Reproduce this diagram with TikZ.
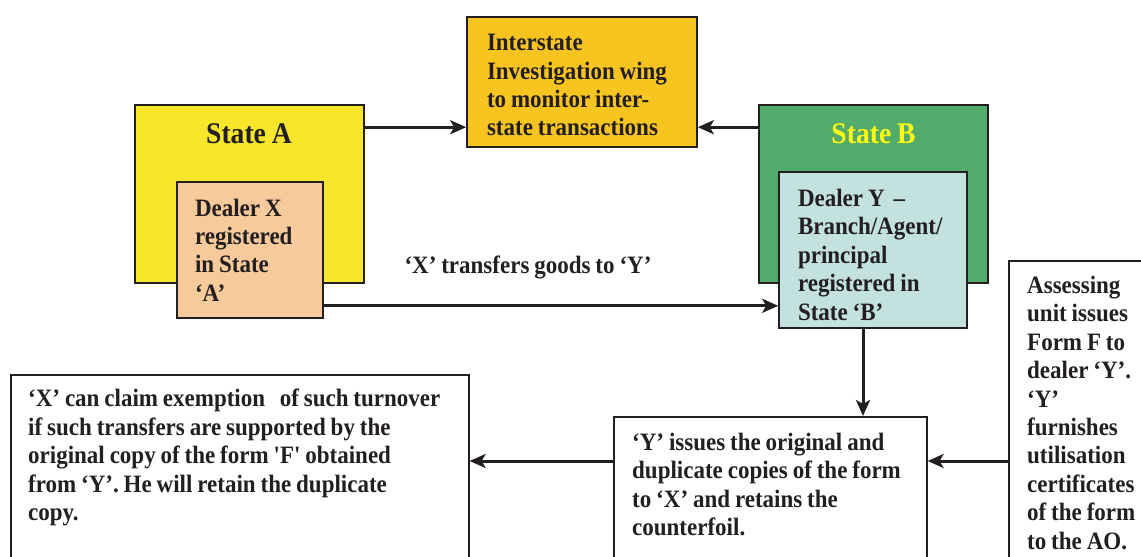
\documentclass[tikz,border=0pt]{standalone}
\usepackage{fontspec}
\setmainfont{Liberation Serif}[FakeStretch=0.92,WordSpace=0.85]
\newfontfamily\straightq{Liberation Serif}[FakeStretch=0.92]
\usetikzlibrary{arrows.meta,positioning}

\definecolor{ink}{RGB}{35,31,32}
\definecolor{stateayellow}{RGB}{247,230,42}
\definecolor{dealerpeach}{RGB}{247,202,155}
\definecolor{wingorange}{RGB}{248,196,32}
\definecolor{statebgreen}{RGB}{82,170,107}
\definecolor{dealerblue}{RGB}{194,225,223}
\definecolor{titleyellow}{RGB}{255,250,20}

\newcommand{\sq}{{\straightq\bfseries'}}

\begin{document}
\begin{tikzpicture}[x=1pt,y=-1pt,
  box/.style={draw=ink,line width=1.6pt,inner ysep=0pt,align=flush left},
  txt/.style={font=\bfseries\fontsize{25}{28.4}\selectfont,text=ink},
  title/.style={font=\bfseries\fontsize{30}{34}\selectfont,anchor=base},
  flow/.style={draw=ink,line width=3pt,-{Stealth[length=16pt,width=14pt,inset=4pt]}}]
\useasboundingbox (0,0) rectangle (1141,557);
\clip (0,0) rectangle (1141,557);

\node (sa) [box,fill=stateayellow,minimum width=229,minimum height=178] at (249.5,194) {};
\node (sat) [title,text=ink] at (249,143) {State A};
\node (dx) [box,txt,fill=dealerpeach,minimum width=146,minimum height=136,text width=110,inner xsep=18] at (250,250) {Dealer X\\registered\\in State\\`A'};

\node (inter) [box,txt,fill=wingorange,minimum width=230,minimum height=130,text width=190,inner xsep=20] at (582,82) {\rule{0pt}{23pt}Interstate\\Investigation wing\\to monitor inter-\\state transactions};

\node (sb) [box,fill=statebgreen,minimum width=229,minimum height=178] at (873.5,194) {};
\node (sbt) [title,text=titleyellow] at (873.5,143) {State B};
\node (dy) [box,txt,fill=dealerblue,minimum width=188,minimum height=156,text width=150,inner xsep=19] at (873,250) {\rule{0pt}{27pt}Dealer Y\hspace{9pt}--\\Branch/Agent/\\principal\\registered in\\State `B'};

\node (lbl) [txt,anchor=base] at (528,273) {`X' transfers goods to `Y'};

\node (xc) [box,fill=white,minimum width=458,minimum height=230,anchor=north west] at (10,374) {};
\node (xct) [txt,align=left,inner sep=0pt,anchor=north west] at (28,389) {`X' can claim exemption\ \ \ of such turnover\\if such transfers are supported by the\\original copy of the form \sq F\sq{} obtained\\from `Y'. He will retain the duplicate\\copy.};

\node (yi) [box,fill=white,minimum width=313,minimum height=200,anchor=north west] at (613,416) {};
\node (yit) [txt,align=left,inner sep=0pt,anchor=north west] at (632,433) {`Y' issues the original and\\duplicate copies of the form\\to `X' and retains the\\counterfoil.};

\node (as) [box,fill=white,minimum width=160,minimum height=340,anchor=north west] at (1008,260) {};
\node (ast) [txt,align=left,inner sep=0pt,anchor=north west] at (1027,276) {Assessing\\unit issues\\Form F to\\dealer `Y'.\\`Y'\\furnishes\\utilisation\\certificates\\of the form\\to the AO.};

\coordinate (aout) at ([yshift=-23pt]sa.north east);
\draw[flow] (aout) -- (aout -| inter.west);
\coordinate (bout) at ([yshift=-23pt]sb.north west);
\draw[flow] (bout) -- (bout -| inter.east);
\coordinate (xout) at ([yshift=13pt]dx.south east);
\draw[flow] (xout) -- (xout -| dy.west);
\draw[flow] ([xshift=-10pt]dy.south) -- ([xshift=-10pt]dy.south |- yi.north);
\coordinate (yin) at ([yshift=-45pt]yi.north east);
\draw[flow] (yin -| as.west) -- (yin);
\coordinate (xin) at ([yshift=-45pt]yi.north west);
\draw[flow] (xin) -- (xin -| xc.east);
\end{tikzpicture}
\end{document}
